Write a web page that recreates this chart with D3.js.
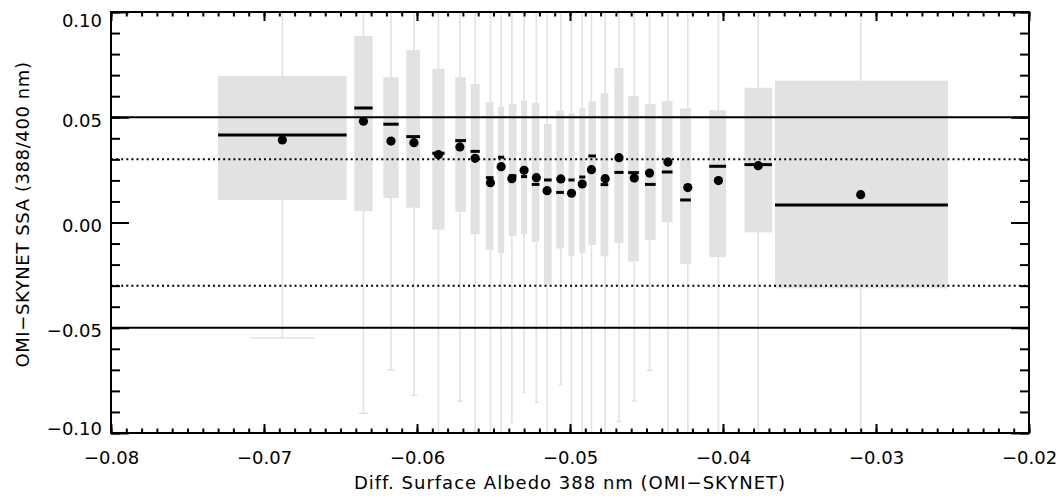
<!DOCTYPE html>
<html>
<head>
<meta charset="utf-8">
<script src="https://cdn.jsdelivr.net/npm/d3@7"></script>
<style>
  body { margin: 0; background: white; }
  text { font-family: "DejaVu Sans", sans-serif; }
</style>
</head>
<body>
<div id="container"></div>
<script>
let w = 1064;
let h = 496;

// bins of surface albedo difference (box left edge, centre, right edge)
let binLeft   = [-0.0730, -0.0641, -0.0622, -0.0607, -0.0590, -0.0575, -0.0565, -0.0555, -0.0547, -0.0540, -0.0532, -0.0525, -0.0517, -0.0509, -0.0501, -0.0494, -0.0488, -0.0480, -0.0471, -0.0462, -0.0451, -0.0440, -0.0428, -0.0409, -0.0386, -0.0366];
let binCenter = [-0.0688, -0.0635, -0.0617, -0.0602, -0.0586, -0.0572, -0.0562, -0.0552, -0.0545, -0.0538, -0.0530, -0.0522, -0.0515, -0.0506, -0.0499, -0.0492, -0.0486, -0.0477, -0.0468, -0.0458, -0.0448, -0.0436, -0.0423, -0.0403, -0.0377, -0.0310];
let binRight  = [-0.0646, -0.0629, -0.0612, -0.0598, -0.0582, -0.0568, -0.0559, -0.0550, -0.0543, -0.0535, -0.0528, -0.0520, -0.0512, -0.0504, -0.0497, -0.0490, -0.0483, -0.0475, -0.0465, -0.0455, -0.0444, -0.0433, -0.0421, -0.0398, -0.0368, -0.0253];

// SSA difference statistics per bin
let q3Values     = [0.0696, 0.0886, 0.0690, 0.0819, 0.0729, 0.0690, 0.0658, 0.0571, 0.0550, 0.0562, 0.0579, 0.0569, 0.0469, 0.0531, 0.0519, 0.0544, 0.0576, 0.0614, 0.0735, 0.0601, 0.0563, 0.0577, 0.0542, 0.0534, 0.0640, 0.0674];
let q1Values     = [0.0107, 0.0055, 0.0116, 0.0070, -0.0034, 0.0051, -0.0056, -0.0131, -0.0145, -0.0064, -0.0055, -0.0091, -0.0294, -0.0124, -0.0159, -0.0145, -0.0107, -0.0161, -0.0097, -0.0186, -0.0083, 0.0001, -0.0197, -0.0165, -0.0047, -0.0313];
let medianValues = [0.0416, 0.0544, 0.0467, 0.0408, 0.0329, 0.0389, 0.0338, 0.0213, 0.0310, 0.0222, 0.0218, 0.0181, 0.0202, 0.0143, 0.0202, 0.0216, 0.0316, 0.0180, 0.0238, 0.0237, 0.0181, 0.0240, 0.0107, 0.0267, 0.0275, 0.0083];
let meanValues   = [0.0392, 0.0481, 0.0387, 0.0379, 0.0322, 0.0359, 0.0305, 0.0189, 0.0265, 0.0208, 0.0248, 0.0213, 0.0151, 0.0207, 0.0139, 0.0183, 0.0251, 0.0208, 0.0308, 0.0211, 0.0235, 0.0287, 0.0166, 0.0199, 0.0270, 0.0132];
let whiskerLow   = [-0.0549, -0.0906, -0.0701, -0.0821, -0.1100, -0.0849, -0.0990, -0.1100, -0.1100, -0.0950, -0.0809, -0.0853, -0.1100, -0.0769, -0.1100, -0.1100, -0.1100, -0.1100, -0.0946, -0.0847, -0.0703, -0.1100, -0.1100, -0.1100, -0.1100, -0.1100];
let whiskerHigh  = [0.1100, 0.1100, 0.1100, 0.1100, 0.1100, 0.1100, 0.1100, 0.1100, 0.1100, 0.1100, 0.1100, 0.1100, 0.1100, 0.1100, 0.1100, 0.1100, 0.1100, 0.1100, 0.1100, 0.1100, 0.1100, 0.1100, 0.1100, 0.1100, 0.1100, 0.1100];

// reference lines
let solidLines = [0.05, -0.05];
let dottedLines = [0.03, -0.03];

let xMajorTicks = [-0.08, -0.07, -0.06, -0.05, -0.04, -0.03, -0.02];
let yMajorTicks = [-0.10, -0.05, 0.00, 0.05, 0.10];

let data = binCenter.map(function (c, i) {
  return {
    x: c, left: binLeft[i], right: binRight[i],
    q1: q1Values[i], q3: q3Values[i], med: medianValues[i], mean: meanValues[i],
    lo: whiskerLow[i], hi: whiskerHigh[i]
  };
});

let padLeft = 111, padRight = 1029, padTop = 12, padBottom = 433;

let viz = d3.select("#container")
  .append("svg")
  .attr("width", w)
  .attr("height", h)
  .style("background-color", "white");

let xScale = d3.scaleLinear().domain([-0.08, -0.02]).range([padLeft, padRight]);
let yScale = d3.scaleLinear().domain([-0.10, 0.10]).range([padBottom, padTop]);

viz.append("clipPath").attr("id", "plotClip")
  .append("rect")
  .attr("x", padLeft).attr("y", padTop)
  .attr("width", padRight - padLeft).attr("height", padBottom - padTop);

let plot = viz.append("g").attr("clip-path", "url(#plotClip)");

let grey = "#e2e2e2";

// whiskers
plot.selectAll(".whiskerUp").data(data).enter()
  .append("line")
  .attr("x1", d => xScale(d.x)).attr("x2", d => xScale(d.x))
  .attr("y1", d => yScale(d.q3)).attr("y2", d => yScale(d.hi))
  .attr("stroke", grey).attr("stroke-width", 1.6);

plot.selectAll(".whiskerDown").data(data).enter()
  .append("line")
  .attr("x1", d => xScale(d.x)).attr("x2", d => xScale(d.x))
  .attr("y1", d => yScale(d.q1)).attr("y2", d => yScale(d.lo))
  .attr("stroke", grey).attr("stroke-width", 1.6);

// caps are half the box width
function capX1(d) { let hw = (xScale(d.right) - xScale(d.left)) / 4; return xScale(d.x) - hw; }
function capX2(d) { let hw = (xScale(d.right) - xScale(d.left)) / 4; return xScale(d.x) + hw; }

plot.selectAll(".capDown").data(data).enter()
  .append("line")
  .attr("x1", capX1).attr("x2", capX2)
  .attr("y1", d => yScale(d.lo)).attr("y2", d => yScale(d.lo))
  .attr("stroke", grey).attr("stroke-width", 1.6);

// boxes
plot.selectAll(".box").data(data).enter()
  .append("rect")
  .attr("x", d => xScale(d.left))
  .attr("width", d => xScale(d.right) - xScale(d.left))
  .attr("y", d => yScale(d.q3))
  .attr("height", d => yScale(d.q1) - yScale(d.q3))
  .attr("fill", grey);

// reference lines
plot.selectAll(".solidLine").data(solidLines).enter()
  .append("line")
  .attr("x1", padLeft).attr("x2", padRight)
  .attr("y1", d => yScale(d)).attr("y2", d => yScale(d))
  .attr("stroke", "black").attr("stroke-width", 2);

plot.selectAll(".dottedLine").data(dottedLines).enter()
  .append("line")
  .attr("x1", padLeft).attr("x2", padRight)
  .attr("y1", d => yScale(d)).attr("y2", d => yScale(d))
  .attr("stroke", "black").attr("stroke-width", 2)
  .attr("stroke-dasharray", "2,3.1");

// medians
plot.selectAll(".median").data(data).enter()
  .append("line")
  .attr("x1", d => xScale(d.left)).attr("x2", d => xScale(d.right))
  .attr("y1", d => yScale(d.med)).attr("y2", d => yScale(d.med))
  .attr("stroke", "black").attr("stroke-width", 3);

// means
plot.selectAll(".mean").data(data).enter()
  .append("circle")
  .attr("cx", d => xScale(d.x))
  .attr("cy", d => yScale(d.mean))
  .attr("r", 4.6)
  .attr("fill", "black");

// AXES (ticks point inward, IDL style)
let fmt = d3.format(".2f");
let xMinorTicks = d3.range(-80, -19).map(v => v / 1000);
let yMinorTicks = d3.range(-10, 11).map(v => v / 100);

function styleAxis(g) {
  g.select(".domain").remove();
  g.selectAll(".tick line").attr("stroke", "black").attr("stroke-width", 2);
  g.selectAll("text").style("font-family", "DejaVu Sans, sans-serif")
    .style("font-size", "18px").attr("fill", "black");
}

viz.append("g").attr("transform", "translate(0," + padBottom + ")")
  .call(d3.axisBottom(xScale).tickValues(xMinorTicks).tickSize(-4.5).tickFormat(""))
  .call(styleAxis);
viz.append("g").attr("transform", "translate(0," + padBottom + ")")
  .call(d3.axisBottom(xScale).tickValues(xMajorTicks).tickSize(-9).tickPadding(18.5).tickFormat(fmt))
  .call(styleAxis);
viz.append("g").attr("transform", "translate(0," + padTop + ")")
  .call(d3.axisTop(xScale).tickValues(xMinorTicks).tickSize(-4.5).tickFormat(""))
  .call(styleAxis);
viz.append("g").attr("transform", "translate(0," + padTop + ")")
  .call(d3.axisTop(xScale).tickValues(xMajorTicks).tickSize(-9).tickFormat(""))
  .call(styleAxis);

viz.append("g").attr("transform", "translate(" + padLeft + ",0)")
  .call(d3.axisLeft(yScale).tickValues(yMinorTicks).tickSize(-9).tickFormat(""))
  .call(styleAxis);
let yAxisGroup = viz.append("g").attr("transform", "translate(" + padLeft + ",0)")
  .call(d3.axisLeft(yScale).tickValues(yMajorTicks).tickSize(-18).tickPadding(9).tickFormat(fmt))
  .call(styleAxis);
// end labels are pulled inside the frame
yAxisGroup.selectAll(".tick text")
  .attr("dy", d => d >= 0.1 ? "0.8em" : (d <= -0.1 ? "0.1em" : "0.5em"));

viz.append("g").attr("transform", "translate(" + padRight + ",0)")
  .call(d3.axisRight(yScale).tickValues(yMinorTicks).tickSize(-9).tickFormat(""))
  .call(styleAxis);
viz.append("g").attr("transform", "translate(" + padRight + ",0)")
  .call(d3.axisRight(yScale).tickValues(yMajorTicks).tickSize(-18).tickFormat(""))
  .call(styleAxis);

// frame
viz.append("rect")
  .attr("x", padLeft).attr("y", padTop)
  .attr("width", padRight - padLeft).attr("height", padBottom - padTop)
  .attr("fill", "none").attr("stroke", "black").attr("stroke-width", 2);

// axis titles
viz.append("text")
  .attr("x", (padLeft + padRight) / 2).attr("y", 489)
  .attr("text-anchor", "middle")
  .style("font-size", "18px").style("letter-spacing", "1px")
  .text("Diff. Surface Albedo 388 nm (OMI\u2212SKYNET)");

viz.append("text")
  .attr("transform", "translate(29," + ((padTop + padBottom) / 2 - 8) + ") rotate(-90)")
  .attr("text-anchor", "middle")
  .style("font-size", "18px").style("letter-spacing", "0.6px")
  .text("OMI\u2212SKYNET SSA (388/400 nm)");
</script>
</body>
</html>
